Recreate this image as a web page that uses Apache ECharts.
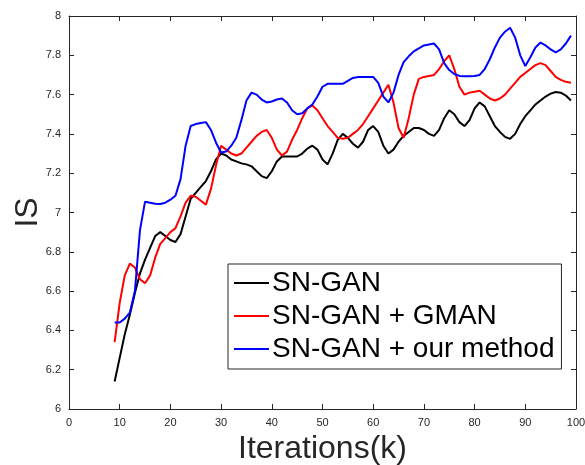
<!DOCTYPE html>
<html>
<head>
<meta charset="utf-8">
<script src="https://cdn.jsdelivr.net/npm/echarts@6/dist/echarts.min.js"></script>
<style>html,body{margin:0;padding:0;background:#fff}#c{width:585px;height:465px}</style>
</head>
<body>
<div id="c"></div>
<script>
const iterations = [9,10,11,12,13,14,15,16,17,18,19,20,21,22,23,24,25,26,27,28,29,30,31,32,33,34,35,36,37,38,39,40,41,42,43,44,45,46,47,48,49,50,51,52,53,54,55,56,57,58,59,60,61,62,63,64,65,66,67,68,69,70,71,72,73,74,75,76,77,78,79,80,81,82,83,84,85,86,87,88,89,90,91,92,93,94,95,96,97,98,99];
const snGan = [6.14,6.26,6.38,6.48,6.59,6.69,6.76,6.82,6.88,6.90,6.88,6.86,6.85,6.89,6.98,7.07,7.10,7.13,7.16,7.21,7.27,7.30,7.29,7.27,7.26,7.25,7.245,7.235,7.21,7.185,7.175,7.21,7.26,7.285,7.285,7.285,7.285,7.30,7.325,7.34,7.32,7.27,7.245,7.30,7.37,7.40,7.38,7.35,7.33,7.36,7.42,7.44,7.41,7.34,7.30,7.32,7.36,7.39,7.41,7.43,7.43,7.42,7.40,7.39,7.42,7.48,7.52,7.50,7.46,7.44,7.47,7.53,7.56,7.54,7.49,7.44,7.41,7.385,7.375,7.40,7.45,7.49,7.52,7.55,7.57,7.59,7.605,7.613,7.61,7.595,7.57];
const snGanGman = [6.34,6.54,6.68,6.74,6.72,6.66,6.64,6.68,6.77,6.84,6.87,6.90,6.92,6.98,7.05,7.085,7.08,7.06,7.04,7.12,7.24,7.34,7.32,7.30,7.29,7.30,7.33,7.36,7.39,7.41,7.42,7.38,7.32,7.29,7.31,7.37,7.42,7.48,7.53,7.545,7.52,7.48,7.44,7.41,7.38,7.375,7.38,7.40,7.42,7.45,7.49,7.53,7.57,7.61,7.65,7.56,7.43,7.38,7.48,7.60,7.68,7.69,7.695,7.70,7.73,7.77,7.80,7.73,7.64,7.60,7.61,7.615,7.62,7.60,7.58,7.57,7.58,7.60,7.63,7.66,7.69,7.71,7.73,7.75,7.76,7.75,7.72,7.69,7.675,7.665,7.66];
const snGanOurs = [6.44,6.44,6.46,6.49,6.60,6.91,7.055,7.05,7.045,7.043,7.05,7.065,7.085,7.17,7.34,7.44,7.45,7.455,7.46,7.42,7.355,7.305,7.31,7.34,7.38,7.47,7.57,7.61,7.60,7.575,7.56,7.565,7.575,7.58,7.56,7.52,7.50,7.505,7.53,7.55,7.59,7.64,7.655,7.655,7.655,7.655,7.67,7.685,7.69,7.69,7.69,7.69,7.66,7.59,7.56,7.61,7.70,7.765,7.795,7.82,7.835,7.85,7.855,7.86,7.83,7.76,7.725,7.705,7.695,7.693,7.693,7.695,7.70,7.73,7.78,7.84,7.89,7.92,7.94,7.89,7.80,7.745,7.79,7.84,7.865,7.85,7.83,7.815,7.83,7.86,7.90];
const seriesNames = ['SN-GAN', 'SN-GAN + GMAN', 'SN-GAN + our method'];
const xTicks = [0,10,20,30,40,50,60,70,80,90,100];
const yTicks = [6,6.2,6.4,6.6,6.8,7,7.2,7.4,7.6,7.8,8];

const FONT = 'Liberation Sans, Arial, Helvetica, sans-serif';
const AX = '#262626';
function pairs(ys){ return iterations.map((x,i)=>[x, ys[i]]); }

const chart = echarts.init(document.getElementById('c'), null, {renderer:'canvas'});
const axisCommon = {
  axisLine:{show:true, onZero:false, lineStyle:{color:AX, width:1}},
  axisTick:{show:true, inside:true, length:5, lineStyle:{color:AX, width:1}},
  splitLine:{show:false}
};
chart.setOption({
  animation:false,
  backgroundColor:'#fff',
  grid:{left:69, right:9, top:16, bottom:56, containLabel:false, outerBoundsMode:'none'},
  xAxis:[
    Object.assign({type:'value', min:0, max:100, interval:10, position:'bottom',
      name:'Iterations(k)', nameLocation:'middle', nameGap:24, nameMoveOverlap:false,
      nameTextStyle:{fontFamily:FONT, fontSize:32, color:'#262626'},
      axisLabel:{fontFamily:FONT, fontSize:11, color:'#262626', margin:8,
        formatter:v=>xTicks.includes(v)?String(v):''}}, axisCommon),
    Object.assign({type:'value', min:0, max:100, interval:10, position:'top',
      axisLabel:{show:false}}, axisCommon)
  ],
  yAxis:[
    Object.assign({type:'value', min:6, max:8, interval:0.2, position:'left',
      name:'IS', nameLocation:'middle', nameGap:25, nameMoveOverlap:false,
      nameTextStyle:{fontFamily:FONT, fontSize:32, color:'#262626'},
      axisLabel:{fontFamily:FONT, fontSize:11, color:'#262626', margin:8,
        formatter:v=>{const r=Math.round(v*10)/10; return yTicks.includes(r)?String(r):'';}}}, axisCommon),
    Object.assign({type:'value', min:6, max:8, interval:0.2, position:'right',
      axisLabel:{show:false}}, axisCommon)
  ],
  legend:{
    orient:'vertical', left:228, top:264,
    data:seriesNames,
    backgroundColor:'#fff', borderColor:'#262626', borderWidth:1,
    padding:[5,7,6,6], itemGap:5, itemWidth:35, itemHeight:14,
    textStyle:{fontFamily:FONT, fontSize:28, color:'#000', padding:[0,0,0,-2]},
    icon:'path://M0,6 L35,6 L35,8 L0,8 Z'
  },
  series:[
    {name:seriesNames[0], type:'line', data:pairs(snGan), symbol:'none', smooth:false,
      itemStyle:{color:'#000'}, lineStyle:{color:'#000', width:2}},
    {name:seriesNames[1], type:'line', data:pairs(snGanGman), symbol:'none', smooth:false,
      itemStyle:{color:'#ff0000'}, lineStyle:{color:'#ff0000', width:2}},
    {name:seriesNames[2], type:'line', data:pairs(snGanOurs), symbol:'none', smooth:false,
      itemStyle:{color:'#0000ff'}, lineStyle:{color:'#0000ff', width:2}}
  ]
});
</script>
</body>
</html>
